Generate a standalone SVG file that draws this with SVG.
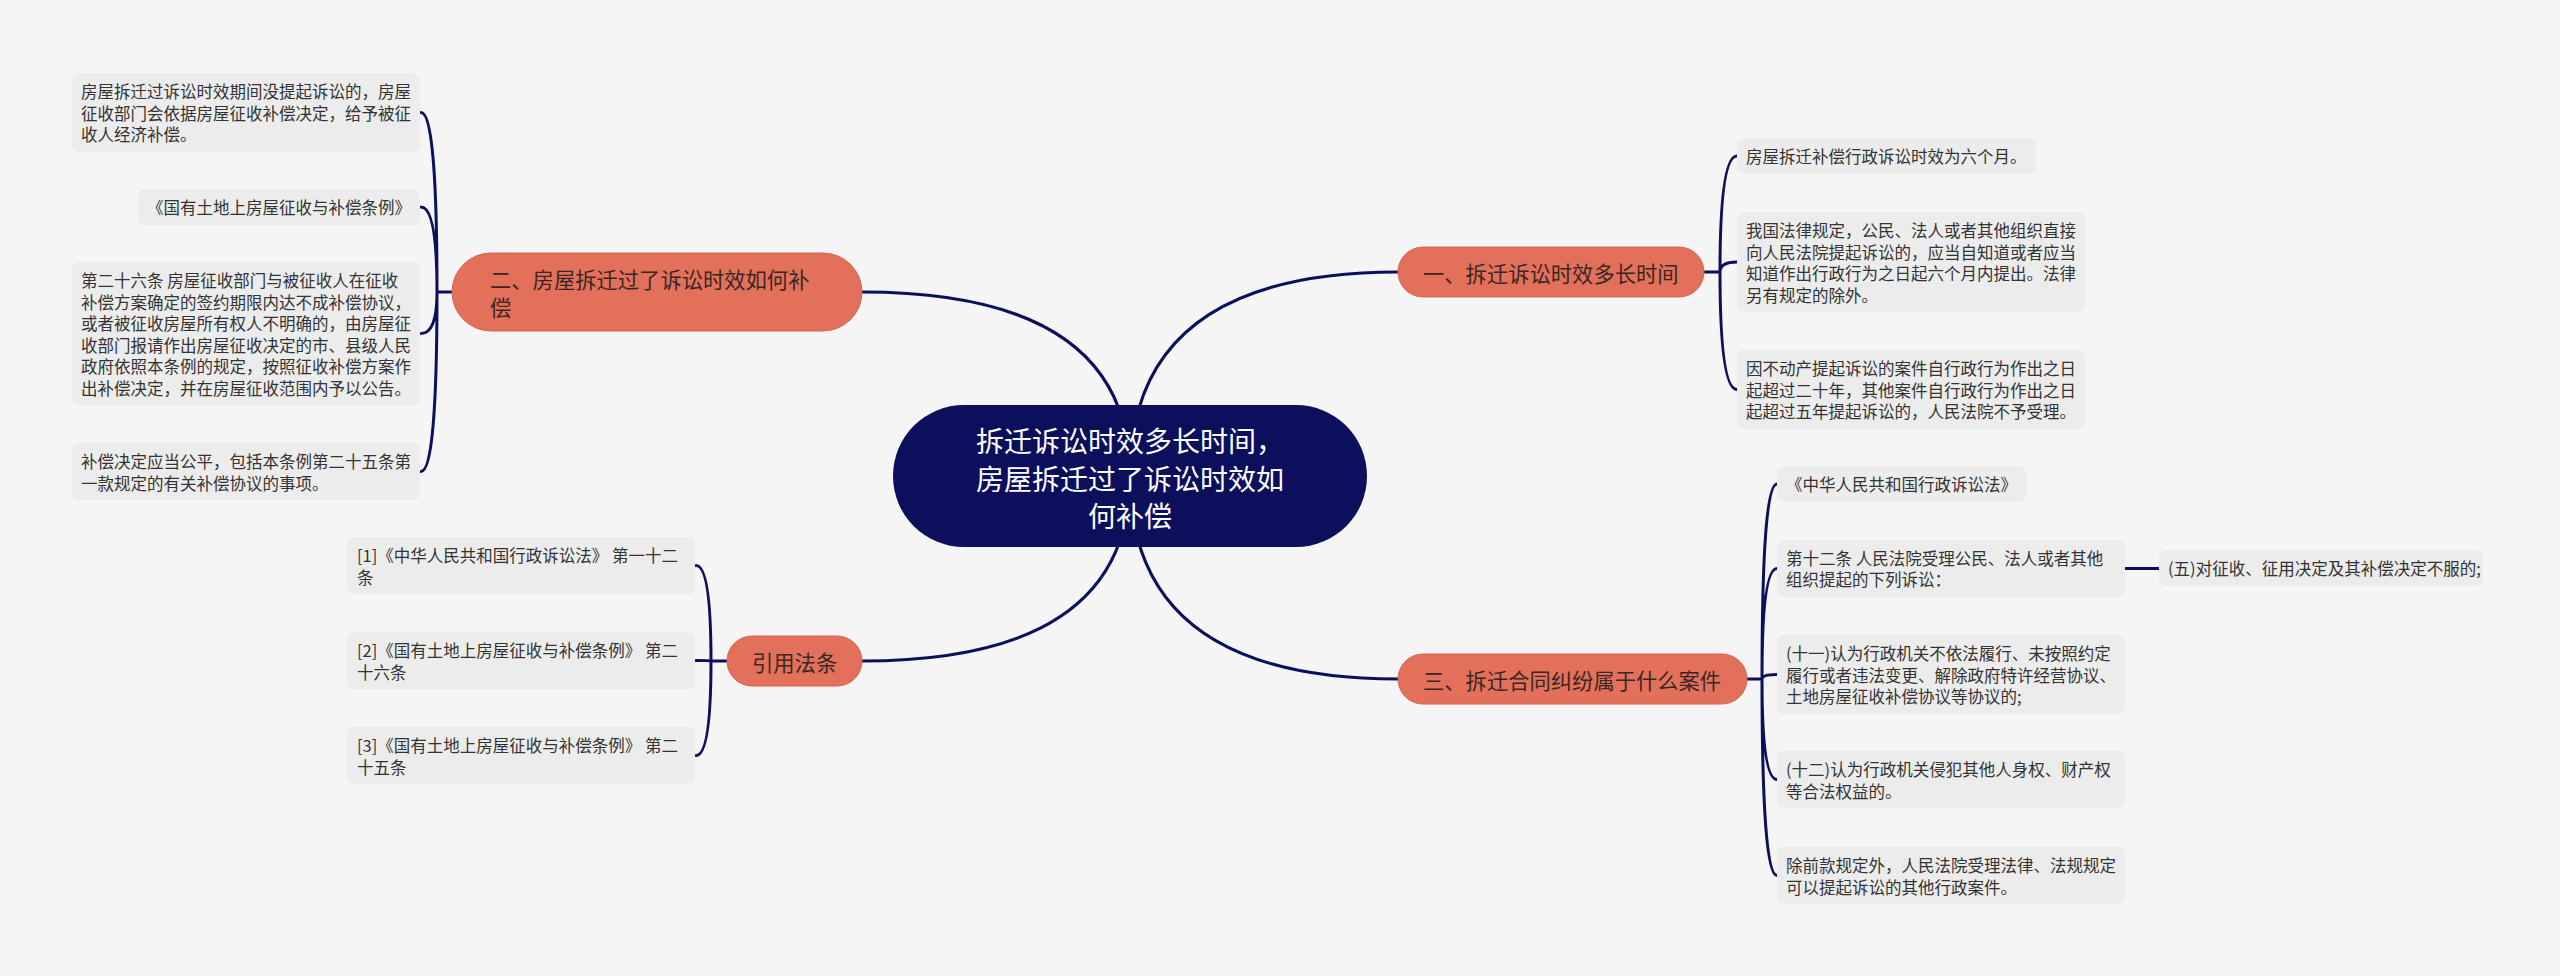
<svg xmlns="http://www.w3.org/2000/svg" width="2560" height="976" viewBox="0 0 2560 976">
<style>
  .conn { fill: none; stroke: #0c105c; stroke-width: 3; stroke-linecap: round; }
  .leaf { fill: #ececec; }
  .lt { font-family: 'Noto Sans CJK SC', 'Noto Sans', sans-serif; font-size: 16.5px; fill: #333333; dominant-baseline: central; }
  .pill { fill: #e3705b; stroke: #d6654f; stroke-width: 1; }
  .pt { font-family: 'Noto Sans CJK SC', 'Noto Sans', sans-serif; font-size: 21.3px; fill: #3a2723; dominant-baseline: central; }
  .rt { font-family: 'Noto Sans CJK SC', 'Noto Sans', sans-serif; font-size: 28px; fill: #ffffff; dominant-baseline: central; text-anchor: middle; }
</style>
<rect x="0" y="0" width="2560" height="976" fill="#f5f5f5"/>

<g id="connectors">
  <path class="conn" d="M1130,476 Q1130,272 1398,272"/>
  <path class="conn" d="M1130,476 Q1130,292 862,292"/>
  <path class="conn" d="M1130,476 Q1130,679 1398,679"/>
  <path class="conn" d="M1130,476 Q1130,661 862,661"/>
  <path class="conn" d="M452,292 H437 M437,292 Q437,112.5 421,112.5 M437,292 Q437,207 421,207 M437,292 Q437,333.5 421,333.5 M437,292 Q437,471.5 421,471.5"/>
  <path class="conn" d="M1704,272 H1720 M1720,272 Q1720,156 1737,156 M1720,272 Q1720,262 1737,262 M1720,272 Q1720,389.5 1737,389.5"/>
  <path class="conn" d="M1747,679 H1762 M1762,679 Q1762,484 1777,484 M1762,679 Q1762,568.5 1777,568.5 M1762,679 Q1762,674.5 1777,674.5 M1762,679 Q1762,779.5 1777,779.5 M1762,679 Q1762,875.5 1777,875.5"/>
  <path class="conn" d="M2125,568.5 H2159"/>
  <path class="conn" d="M727,661 H711 M711,661 Q711,565.5 696,565.5 M711,661 Q711,660.5 696,660.5 M711,661 Q711,755.5 696,755.5"/>
</g>

<g id="root">
  <rect x="893" y="405" width="474" height="142" rx="71" fill="#0c105c"/>
  <text class="rt" x="1130" y="440">拆迁诉讼时效多长时间，</text>
  <text class="rt" x="1130" y="477.5">房屋拆迁过了诉讼时效如</text>
  <text class="rt" x="1130" y="515">何补偿</text>
</g>

<g id="node-1">
  <rect class="pill" x="1398" y="247" width="306" height="50" rx="25"/>
  <text class="pt" x="1423" y="272">一、拆迁诉讼时效多长时间</text>
</g>

<g id="node-2">
  <rect class="pill" x="452" y="253" width="410" height="78" rx="39"/>
  <text class="pt" x="490" y="278">二、房屋拆迁过了诉讼时效如何补</text>
  <text class="pt" x="490" y="306">偿</text>
</g>

<g id="node-3">
  <rect class="pill" x="1398" y="654" width="349" height="50" rx="25"/>
  <text class="pt" x="1423" y="679">三、拆迁合同纠纷属于什么案件</text>
</g>

<g id="node-refs">
  <rect class="pill" x="727" y="636" width="135" height="50" rx="25"/>
  <text class="pt" x="752" y="661">引用法条</text>
</g>

<g id="leaf-2-1">
  <rect class="leaf" x="72" y="73" width="348" height="79" rx="7"/>
  <text class="lt" x="81" y="91">房屋拆迁过诉讼时效期间没提起诉讼的，房屋</text>
  <text class="lt" x="81" y="112.5">征收部门会依据房屋征收补偿决定，给予被征</text>
  <text class="lt" x="81" y="134">收人经济补偿。</text>
</g>
<g id="leaf-2-2">
  <rect class="leaf" x="138" y="189" width="282" height="36" rx="7"/>
  <text class="lt" x="147" y="207">《国有土地上房屋征收与补偿条例》</text>
</g>
<g id="leaf-2-3">
  <rect class="leaf" x="72" y="262" width="348" height="143" rx="7"/>
  <text class="lt" x="81" y="280">第二十六条 房屋征收部门与被征收人在征收</text>
  <text class="lt" x="81" y="301.5">补偿方案确定的签约期限内达不成补偿协议，</text>
  <text class="lt" x="81" y="323">或者被征收房屋所有权人不明确的，由房屋征</text>
  <text class="lt" x="81" y="344.5">收部门报请作出房屋征收决定的市、县级人民</text>
  <text class="lt" x="81" y="366">政府依照本条例的规定，按照征收补偿方案作</text>
  <text class="lt" x="81" y="387.5">出补偿决定，并在房屋征收范围内予以公告。</text>
</g>
<g id="leaf-2-4">
  <rect class="leaf" x="72" y="443" width="348" height="57" rx="7"/>
  <text class="lt" x="81" y="461">补偿决定应当公平，包括本条例第二十五条第</text>
  <text class="lt" x="81" y="482.5">一款规定的有关补偿协议的事项。</text>
</g>

<g id="leaf-1-1">
  <rect class="leaf" x="1737" y="138" width="299" height="36" rx="7"/>
  <text class="lt" x="1746" y="156">房屋拆迁补偿行政诉讼时效为六个月。</text>
</g>
<g id="leaf-1-2">
  <rect class="leaf" x="1737" y="212" width="348" height="100" rx="7"/>
  <text class="lt" x="1746" y="230">我国法律规定，公民、法人或者其他组织直接</text>
  <text class="lt" x="1746" y="251.5">向人民法院提起诉讼的，应当自知道或者应当</text>
  <text class="lt" x="1746" y="273">知道作出行政行为之日起六个月内提出。法律</text>
  <text class="lt" x="1746" y="294.5">另有规定的除外。</text>
</g>
<g id="leaf-1-3">
  <rect class="leaf" x="1737" y="350" width="348" height="79" rx="7"/>
  <text class="lt" x="1746" y="368">因不动产提起诉讼的案件自行政行为作出之日</text>
  <text class="lt" x="1746" y="389.5">起超过二十年，其他案件自行政行为作出之日</text>
  <text class="lt" x="1746" y="411">起超过五年提起诉讼的，人民法院不予受理。</text>
</g>

<g id="leaf-3-1">
  <rect class="leaf" x="1777" y="466" width="249" height="36" rx="7"/>
  <text class="lt" x="1786" y="484">《中华人民共和国行政诉讼法》</text>
</g>
<g id="leaf-3-2">
  <rect class="leaf" x="1777" y="540" width="348" height="57" rx="7"/>
  <text class="lt" x="1786" y="557.5">第十二条 人民法院受理公民、法人或者其他</text>
  <text class="lt" x="1786" y="579">组织提起的下列诉讼：</text>
</g>
<g id="leaf-3-2-1">
  <rect class="leaf" x="2159" y="550" width="324" height="36" rx="7"/>
  <text class="lt" x="2168" y="568">(五)对征收、征用决定及其补偿决定不服的;</text>
</g>
<g id="leaf-3-3">
  <rect class="leaf" x="1777" y="635" width="348" height="79" rx="7"/>
  <text class="lt" x="1786" y="653">(十一)认为行政机关不依法履行、未按照约定</text>
  <text class="lt" x="1786" y="674.5">履行或者违法变更、解除政府特许经营协议、</text>
  <text class="lt" x="1786" y="696">土地房屋征收补偿协议等协议的;</text>
</g>
<g id="leaf-3-4">
  <rect class="leaf" x="1777" y="751" width="348" height="57" rx="7"/>
  <text class="lt" x="1786" y="769">(十二)认为行政机关侵犯其他人身权、财产权</text>
  <text class="lt" x="1786" y="790.5">等合法权益的。</text>
</g>
<g id="leaf-3-5">
  <rect class="leaf" x="1777" y="847" width="348" height="57" rx="7"/>
  <text class="lt" x="1786" y="865">除前款规定外，人民法院受理法律、法规规定</text>
  <text class="lt" x="1786" y="886.5">可以提起诉讼的其他行政案件。</text>
</g>

<g id="leaf-r-1">
  <rect class="leaf" x="347" y="537" width="348" height="57" rx="7"/>
  <text class="lt" x="357" y="555">[1]《中华人民共和国行政诉讼法》 第一十二</text>
  <text class="lt" x="357" y="576.5">条</text>
</g>
<g id="leaf-r-2">
  <rect class="leaf" x="347" y="632" width="348" height="57" rx="7"/>
  <text class="lt" x="357" y="650">[2]《国有土地上房屋征收与补偿条例》 第二</text>
  <text class="lt" x="357" y="671.5">十六条</text>
</g>
<g id="leaf-r-3">
  <rect class="leaf" x="347" y="727" width="348" height="57" rx="7"/>
  <text class="lt" x="357" y="745">[3]《国有土地上房屋征收与补偿条例》 第二</text>
  <text class="lt" x="357" y="766.5">十五条</text>
</g>
</svg>
